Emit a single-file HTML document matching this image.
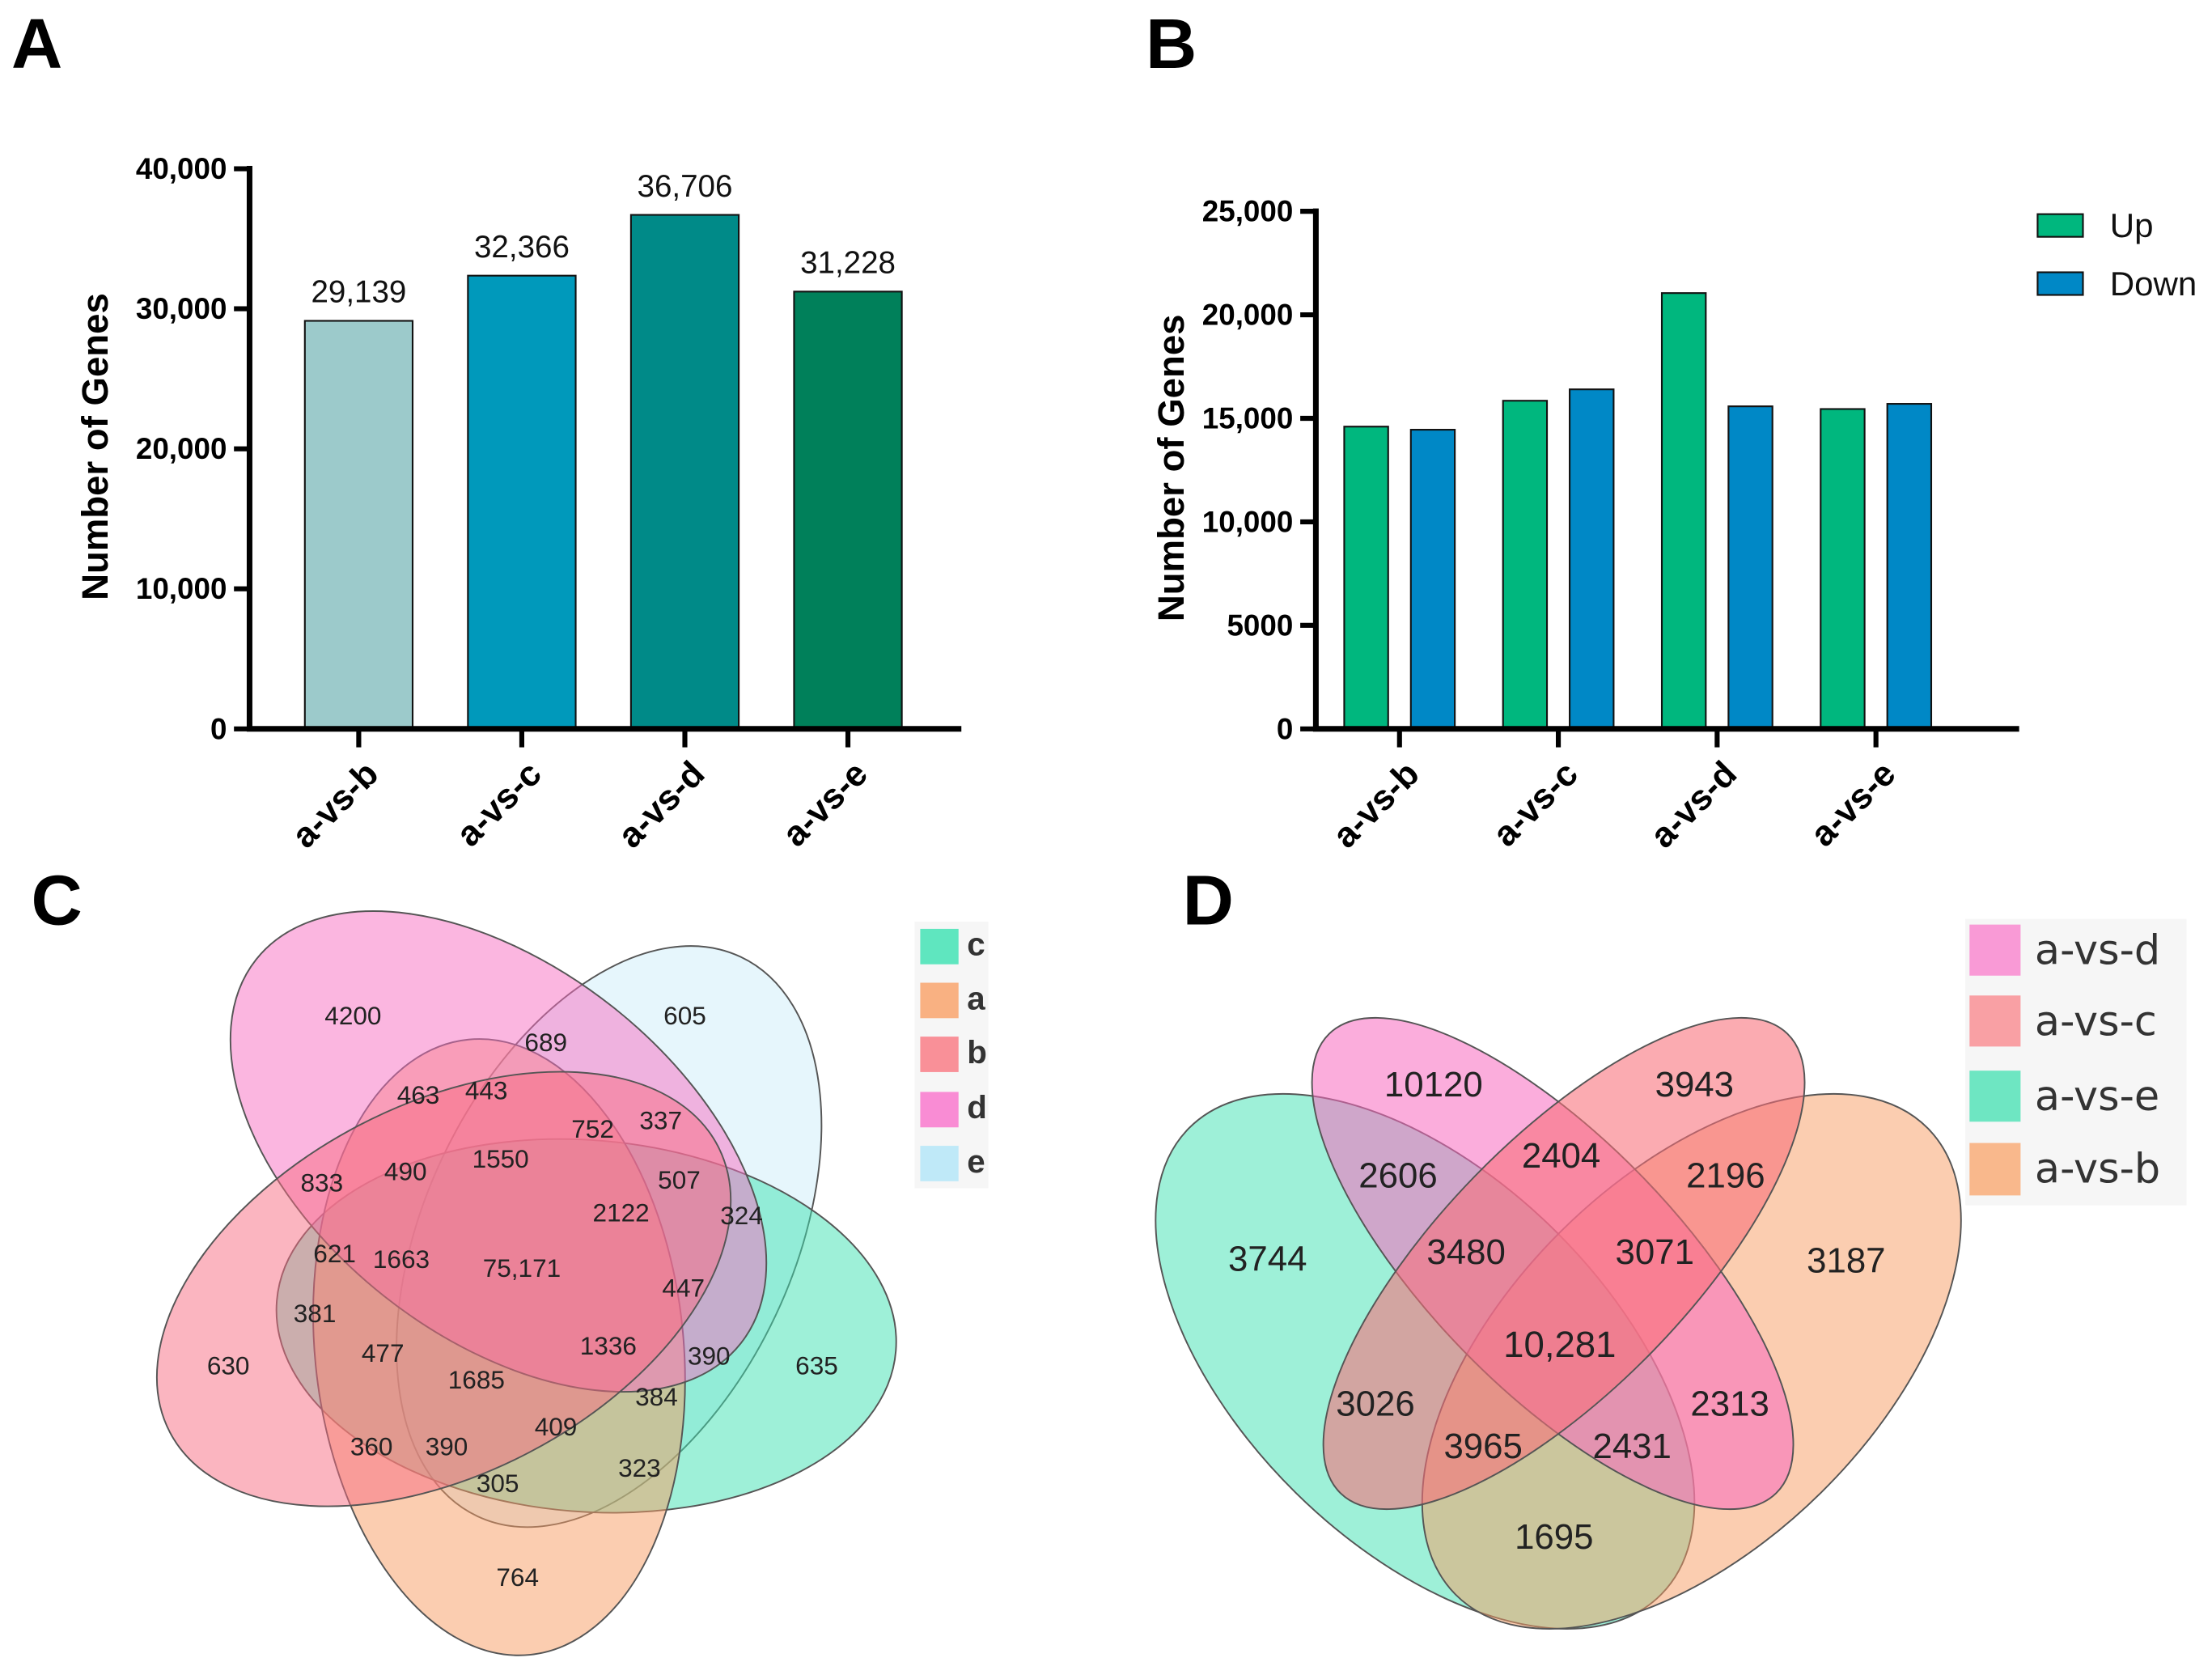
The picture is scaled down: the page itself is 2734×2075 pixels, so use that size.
<!DOCTYPE html>
<html><head><meta charset="utf-8"><style>
html,body{margin:0;padding:0;background:#fff;}
svg{display:block;font-family:"Liberation Sans",sans-serif;}
</style></head><body>
<svg id="fig" xmlns="http://www.w3.org/2000/svg" width="2734" height="2075" viewBox="0 0 1560 1184" preserveAspectRatio="none">
<rect width="1560" height="1184" fill="#fff"/>
<g font-weight="bold" font-size="50" fill="#000">
<text x="8" y="48">A</text>
<text x="808" y="48">B</text>
<text x="22" y="652">C</text>
<text x="834" y="652">D</text>
</g>
<g id="chartA"></g>
<g id="chartB"></g>

<!-- Panel C venn -->
<g stroke="#555" stroke-width="1.1">
<ellipse cx="429.5" cy="872" rx="218" ry="130" transform="rotate(-64.8 429.5 872)" fill="#cdeef9" fill-opacity="0.5"/>
<ellipse cx="413.5" cy="935" rx="219" ry="131" transform="rotate(4.6 413.5 935)" fill="#3ee2b2" fill-opacity="0.5"/>
<ellipse cx="352" cy="950" rx="218" ry="130" transform="rotate(84.3 352 950)" fill="#f89c62" fill-opacity="0.5"/>
<ellipse cx="351.5" cy="812" rx="218" ry="130" transform="rotate(38.4 351.5 812)" fill="#f86ec2" fill-opacity="0.5"/>
<ellipse cx="313" cy="909" rx="218" ry="130" transform="rotate(-27.6 313 909)" fill="#f86c82" fill-opacity="0.5"/>
</g>
<g font-size="18" fill="#222" text-anchor="middle" dominant-baseline="central">
<text x="249" y="716">4200</text><text x="483" y="716">605</text><text x="385" y="735">689</text>
<text x="295" y="772">463</text><text x="343" y="769">443</text><text x="418" y="796">752</text>
<text x="466" y="790">337</text><text x="227" y="834">833</text><text x="286" y="826">490</text>
<text x="353" y="817">1550</text><text x="479" y="832">507</text><text x="438" y="855">2122</text>
<text x="523" y="857">324</text><text x="236" y="884">621</text><text x="283" y="888">1663</text>
<text x="368" y="894">75,171</text><text x="482" y="908">447</text><text x="222" y="926">381</text>
<text x="270" y="954">477</text><text x="429" y="949">1336</text><text x="500" y="956">390</text>
<text x="161" y="963">630</text><text x="576" y="963">635</text><text x="336" y="973">1685</text>
<text x="463" y="985">384</text><text x="392" y="1006">409</text><text x="262" y="1020">360</text>
<text x="315" y="1020">390</text><text x="451" y="1035">323</text><text x="351" y="1046">305</text>
<text x="365" y="1112">764</text>
</g>
<g>
<rect x="645" y="650" width="52" height="188" fill="#f6f6f6"/>
<rect x="649" y="655" width="27" height="25" fill="#5fe6bf"/>
<rect x="649" y="693" width="27" height="25" fill="#f9b182"/>
<rect x="649" y="731" width="27" height="25" fill="#f99098"/>
<rect x="649" y="770" width="27" height="25" fill="#f98cd4"/>
<rect x="649" y="808" width="27" height="25" fill="#bfe9f8"/>
<g font-size="23" font-weight="bold" fill="#333" dominant-baseline="central">
<text x="682" y="666">c</text><text x="682" y="704">a</text><text x="682" y="742">b</text><text x="682" y="781">d</text><text x="682" y="819">e</text>
</g>
</g>

<!-- Panel D venn -->
<g stroke="#555" stroke-width="1.1">
<ellipse cx="1005" cy="960" rx="234" ry="130" transform="rotate(44.6 1005 960)" fill="#3ee2b2" fill-opacity="0.5"/>
<ellipse cx="1193" cy="960" rx="234" ry="130" transform="rotate(-44.6 1193 960)" fill="#f89c62" fill-opacity="0.5"/>
<ellipse cx="1095" cy="891" rx="226" ry="88" transform="rotate(45.8 1095 891)" fill="#f86ac0" fill-opacity="0.55"/>
<ellipse cx="1103" cy="891" rx="226" ry="88" transform="rotate(-45.8 1103 891)" fill="#f86e78" fill-opacity="0.58"/>
</g>
<g font-size="25" fill="#222" text-anchor="middle" dominant-baseline="central">
<text x="1011" y="765">10120</text><text x="1195" y="765">3943</text><text x="1101" y="815">2404</text>
<text x="986" y="829">2606</text><text x="1217" y="829">2196</text><text x="894" y="888">3744</text>
<text x="1034" y="883">3480</text><text x="1167" y="883">3071</text><text x="1302" y="889">3187</text>
<text x="1100" y="948" font-size="26">10,281</text><text x="970" y="990">3026</text><text x="1220" y="990">2313</text>
<text x="1046" y="1020">3965</text><text x="1151" y="1020">2431</text><text x="1096" y="1084">1695</text>
</g>
<g>
<rect x="1386" y="648" width="156" height="202" fill="#f6f6f6"/>
<rect x="1389" y="652" width="36" height="36" fill="#f99ad6"/>
<rect x="1389" y="702" width="36" height="36" fill="#f9a0a4"/>
<rect x="1389" y="755" width="36" height="36" fill="#6ee6c2"/>
<rect x="1389" y="806" width="36" height="37" fill="#f9b88c"/>
<g font-family="'DejaVu Sans',sans-serif" font-size="29" fill="#333" dominant-baseline="central">
<text x="1435" y="670">a-vs-d</text><text x="1435" y="720">a-vs-c</text><text x="1435" y="773">a-vs-e</text><text x="1435" y="824">a-vs-b</text>
</g>
</g>
</svg>
<script>
// ---- Panel A data ----
const catsA = ['a-vs-b','a-vs-c','a-vs-d','a-vs-e'];
const valsA = [29139, 32366, 36706, 31228];
const printedA = ['29,139','32,366','36,706','31,228'];
const ticksA = [0, 10000, 20000, 30000, 40000];
const tickLabelsA = ['0','10,000','20,000','30,000','40,000'];
const colorsA = ['#9ccacb','#0099bb','#008a88','#00805a'];
// ---- Panel B data ----
const catsB = ['a-vs-b','a-vs-c','a-vs-d','a-vs-e'];
const upB = [14600, 15850, 21050, 15450];
const downB = [14450, 16400, 15580, 15700];
const ticksB = [0, 5000, 10000, 15000, 20000, 25000];
const tickLabelsB = ['0','5000','10,000','15,000','20,000','25,000'];
const seriesB = ['Up','Down'];

const NS = 'http://www.w3.org/2000/svg';
function mk(tag, parent, attrs, txt){
  const e = document.createElementNS(NS, tag);
  for (const k in attrs) e.setAttribute(k, attrs[k]);
  if (txt !== undefined) e.textContent = txt;
  parent.appendChild(e);
  return e;
}

// Panel A
(function(){
  const g = document.getElementById('chartA');
  const x0 = 176, y0 = 514, yTop = 119, xEnd = 678, vmax = 40000;
  const yA = v => y0 - v / vmax * (y0 - yTop);
  const xA = i => 253 + i * 115;
  const bw = 76;
  valsA.forEach((v, i) => {
    const r = mk('rect', g, {x: xA(i) - bw/2, y: yA(v), width: bw, height: y0 - yA(v), fill: colorsA[i], stroke: '#111', 'stroke-width': 1.2});
    
    
    const t = mk('text', g, {x: xA(i), y: yA(v) - 13, 'text-anchor': 'middle', 'font-size': 22, fill: '#111'}, printedA[i]);
    
    
    const tk = mk('line', g, {x1: xA(i), x2: xA(i), y1: y0, y2: 527, stroke: '#000', 'stroke-width': 3.5});
    
    
    const xl = mk('text', g, {transform: 'translate(' + (xA(i) + 2) + ',534) rotate(-45)', 'text-anchor': 'end', dy: '0.75em', 'font-size': 25, 'font-weight': 'bold', fill: '#000'}, catsA[i]);
    
    
  });
  ticksA.forEach((v, i) => {
    const l = mk('line', g, {x1: 165, x2: x0, y1: yA(v), y2: yA(v), stroke: '#000', 'stroke-width': 3.5});
    
    
    const t = mk('text', g, {x: 160, y: yA(v), 'text-anchor': 'end', 'dominant-baseline': 'central', 'font-size': 21, 'font-weight': 'bold', fill: '#000'}, tickLabelsA[i]);
    
    
  });
  const ax = mk('path', g, {d: 'M' + x0 + ' ' + (yTop - 2) + ' V' + y0 + ' H' + xEnd, fill: 'none', stroke: '#000', 'stroke-width': 4});
  
  
  const yt = mk('text', g, {transform: 'translate(67,315) rotate(-90)', 'text-anchor': 'middle', 'dominant-baseline': 'central', 'font-size': 26, 'font-weight': 'bold'}, 'Number of Genes');
  
  
})();

// Panel B
(function(){
  const g = document.getElementById('chartB');
  const x0 = 928, y0 = 514, yTop = 149, xEnd = 1424, vmax = 25000;
  const yB = v => y0 - v / vmax * (y0 - yTop);
  const xB = i => 987 + i * 112;
  const bw = 31, off = 23.5;
  const cols = ['#00b77e', '#0088c6'];
  [upB, downB].forEach((arr, s) => {
    arr.forEach((v, i) => {
      const cx = xB(i) + (s === 0 ? -off : off);
      const r = mk('rect', g, {x: cx - bw/2, y: yB(v), width: bw, height: y0 - yB(v), fill: cols[s], stroke: '#111', 'stroke-width': 1.2});
      
      
    });
  });
  catsB.forEach((c, i) => {
    const tk = mk('line', g, {x1: xB(i), x2: xB(i), y1: y0, y2: 527, stroke: '#000', 'stroke-width': 3.5});
    
    
    const xl = mk('text', g, {transform: 'translate(' + (xB(i) + 2) + ',534) rotate(-45)', 'text-anchor': 'end', dy: '0.75em', 'font-size': 25, 'font-weight': 'bold', fill: '#000'}, c);
    
    
  });
  ticksB.forEach((v, i) => {
    const l = mk('line', g, {x1: 917, x2: x0, y1: yB(v), y2: yB(v), stroke: '#000', 'stroke-width': 3.5});
    
    
    const t = mk('text', g, {x: 912, y: yB(v), 'text-anchor': 'end', 'dominant-baseline': 'central', 'font-size': 21, 'font-weight': 'bold', fill: '#000'}, tickLabelsB[i]);
    
    
  });
  const ax = mk('path', g, {d: 'M' + x0 + ' ' + (yTop - 2) + ' V' + y0 + ' H' + xEnd, fill: 'none', stroke: '#000', 'stroke-width': 4});
  
  
  const yt = mk('text', g, {transform: 'translate(826,330) rotate(-90)', 'text-anchor': 'middle', 'dominant-baseline': 'central', 'font-size': 26, 'font-weight': 'bold'}, 'Number of Genes');
  
  
  seriesB.forEach((s, k) => {
    const ly = 151 + k * 41;
    const r = mk('rect', g, {x: 1437, y: ly, width: 32, height: 16, fill: cols[k], stroke: '#111', 'stroke-width': 1.2});
    
    
    const t = mk('text', g, {x: 1488, y: ly + 8, 'dominant-baseline': 'central', 'font-size': 24, fill: '#111'}, s);
    
    
  });
})();
</script>
</body></html>
